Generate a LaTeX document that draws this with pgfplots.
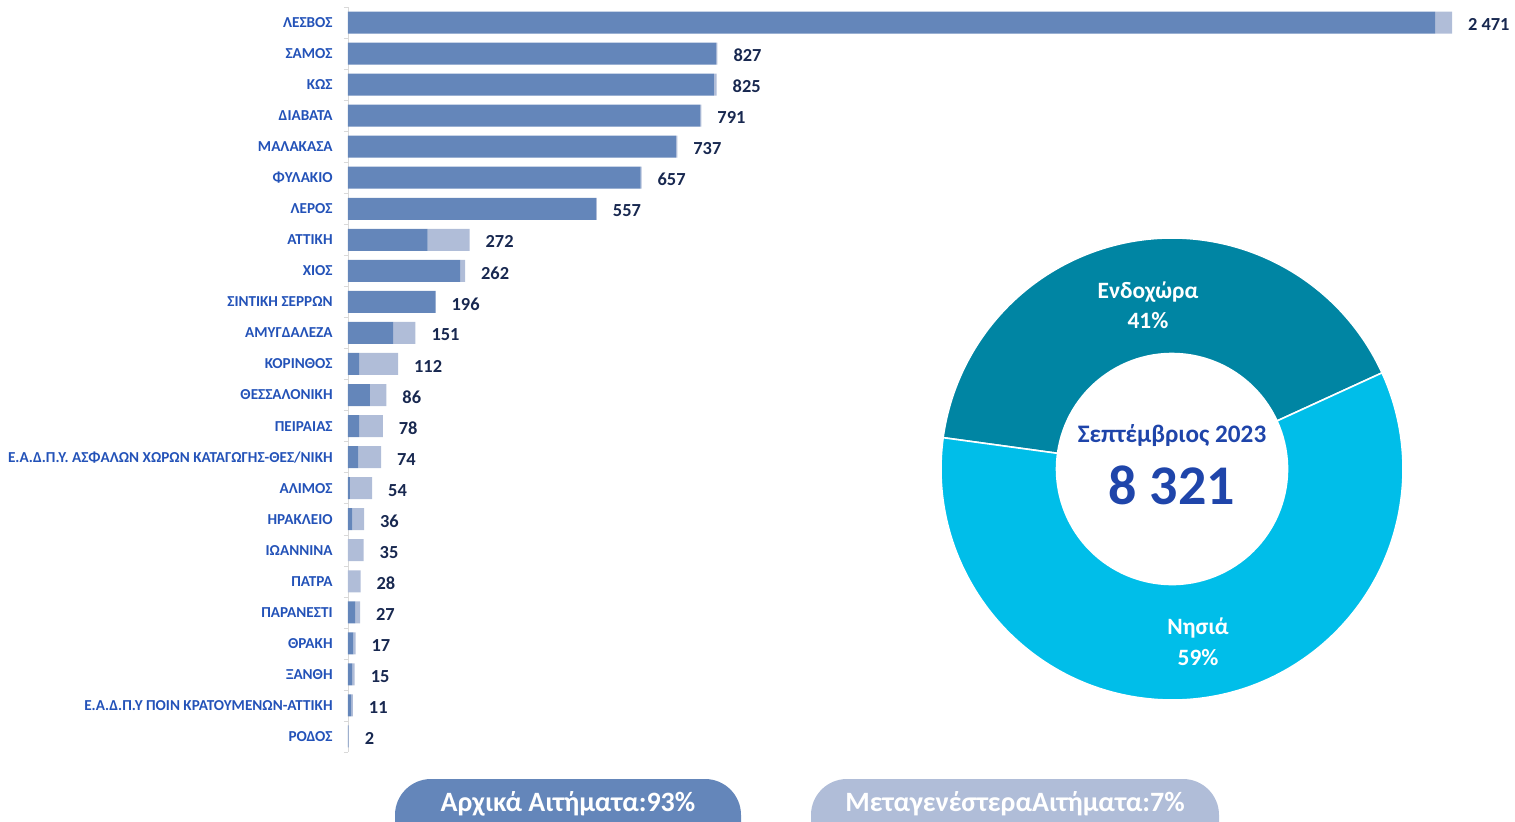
\documentclass[border=0pt]{standalone}
\usepackage{pgfplots}
\pgfplotsset{compat=1.18}
\usepackage{pgfplotstable}
\usepackage{fontspec}
\setmainfont{Carlito}
\definecolor{darkbar}{HTML}{6486BA}
\definecolor{lightbar}{HTML}{B0BDD8}
\definecolor{catblue}{HTML}{2352B8}
\definecolor{valnavy}{HTML}{182850}
\definecolor{teal}{HTML}{0085A3}
\definecolor{cyanb}{HTML}{00BEE9}
\definecolor{centerblue}{HTML}{1F45AA}
\pgfplotstableread[col sep=comma]{
idx,dark,light,tot,total
0,2433,38,2471,2 471
1,824,3,827,827
2,819,6,825,825
3,788,3,791,791
4,734,3,737,737
5,655,2,657,657
6,555,2,557,557
7,178,94,272,272
8,251,11,262,262
9,196,0,196,196
10,101,50,151,151
11,25,87,112,112
12,49,37,86,86
13,25,53,78,78
14,23,51,74,74
15,4,50,54,54
16,10,26,36,36
17,0,35,35,35
18,0,28,28,28
19,16,11,27,27
20,12,5,17,17
21,9,6,15,15
22,7,4,11,11
23,1,1,2,2
}\bars
\pgfplotsset{baraxis/.style={
  at={(174pt,34.5pt)}, anchor=south west,
  scale only axis, width=552pt, height=372.5pt,
  xmin=0, xmax=2471,
  ymin=-0.5, ymax=23.5, y dir=reverse,
  clip=false,
}}
\begin{document}
\begin{tikzpicture}[x=0.5pt,y=0.5pt]
\useasboundingbox (0,0) rectangle (1515,821);
\clip (0,0) rectangle (1515,821);
\begin{axis}[
  baraxis,
  xbar stacked, bar width=11pt,
  axis x line=none, axis y line*=left,
  y axis line style={draw=gray!30},
  ytick={0,...,23},
  yticklabels={ΛΕΣΒΟΣ,ΣΑΜΟΣ,ΚΩΣ,ΔΙΑΒΑΤΑ,ΜΑΛΑΚΑΣΑ,ΦΥΛΑΚΙΟ,ΛΕΡΟΣ,ΑΤΤΙΚΗ,ΧΙΟΣ,ΣΙΝΤΙΚΗ ΣΕΡΡΩΝ,ΑΜΥΓΔΑΛΕΖΑ,ΚΟΡΙΝΘΟΣ,ΘΕΣΣΑΛΟΝΙΚΗ,ΠΕΙΡΑΙΑΣ,Ε.Α.Δ.Π.Υ. ΑΣΦΑΛΩΝ ΧΩΡΩΝ ΚΑΤΑΓΩΓΗΣ-ΘΕΣ/ΝΙΚΗ,ΑΛΙΜΟΣ,ΗΡΑΚΛΕΙΟ,ΙΩΑΝΝΙΝΑ,ΠΑΤΡΑ,ΠΑΡΑΝΕΣΤΙ,ΘΡΑΚΗ,ΞΑΝΘΗ,Ε.Α.Δ.Π.Υ ΠΟΙΝ ΚΡΑΤΟΥΜΕΝΩΝ-ΑΤΤΙΚΗ,ΡΟΔΟΣ},
  major tick length=0pt,
  minor ytick={-0.5,0.5,...,23.5},
  minor tick length=2pt, tick align=outside,
  minor tick style={draw=gray!30},
  yticklabel style={font=\bfseries\fontsize{7.6}{8}\selectfont, text=catblue, inner sep=0pt, xshift=-7.5pt},
]
\addplot[fill=darkbar, draw=none] table[x=dark,y=idx]{\bars};
\addplot[fill=lightbar, draw=none] table[x=light,y=idx]{\bars};
\end{axis}
\begin{axis}[baraxis, hide axis]
\addplot[draw=none, mark=none, nodes near coords, point meta=explicit symbolic,
  nodes near coords style={anchor=west, xshift=4.5pt, yshift=-1pt, font=\bfseries\fontsize{9.2}{10}\selectfont, text=valnavy}]
  table[x=tot,y=idx,meta=total]{\bars};
\end{axis}
\pgfmathsetmacro{\aS}{24.6}
\pgfmathsetmacro{\aM}{24.6+41*3.6}
\pgfmathsetmacro{\aE}{24.6+(41+59)*3.6}
\begin{axis}[
  at={(586pt,176pt)}, anchor=center,
  scale only axis, width=231pt, height=231pt,
  xmin=-1, xmax=1, ymin=-1, ymax=1, hide axis, clip=false,
]
\fill[teal, draw=white, line width=0.8pt] (axis cs:{cos(\aS)},{sin(\aS)}) arc[start angle=\aS, end angle=\aM, radius=1] -- (axis cs:{0.5*cos(\aM)},{0.5*sin(\aM)}) arc[start angle=\aM, end angle=\aS, radius=0.5] -- cycle;
\fill[cyanb, draw=white, line width=0.8pt] (axis cs:{cos(\aM)},{sin(\aM)}) arc[start angle=\aM, end angle=\aE, radius=1] -- (axis cs:{0.5*cos(\aE)},{0.5*sin(\aE)}) arc[start angle=\aE, end angle=\aM, radius=0.5] -- cycle;
\node[text=white, font=\bfseries\fontsize{11.7}{12}\selectfont] at (axis cs:-0.104,0.766) {Ενδοχώρα};
\node[text=white, font=\bfseries\fontsize{11.7}{12}\selectfont] at (axis cs:-0.104,0.641) {41\%};
\node[text=white, font=\bfseries\fontsize{11.7}{12}\selectfont] at (axis cs:0.113,-0.688) {Νησιά};
\node[text=white, font=\bfseries\fontsize{11.7}{12}\selectfont] at (axis cs:0.113,-0.814) {59\%};
\node[text=centerblue, font=\bfseries\fontsize{12.6}{13}\selectfont] at (axis cs:0,0.143) {Σεπτέμβριος 2023};
\node[text=centerblue, font=\bfseries\fontsize{28}{30}\selectfont] at (axis cs:0,-0.069) {8 321};
\end{axis}
\fill[darkbar, rounded corners=18pt] (395,-40) rectangle (741,42);
\fill[lightbar, rounded corners=18pt] (811,-40) rectangle (1219,42);
\node[text=white, font=\bfseries\fontsize{14}{15}\selectfont] at (568,17) {Αρχικά Αιτήματα:93\%};
\node[text=white, font=\bfseries\fontsize{14}{15}\selectfont] at (1015,17) {ΜεταγενέστεραΑιτήματα:7\%};
\end{tikzpicture}
\end{document}
